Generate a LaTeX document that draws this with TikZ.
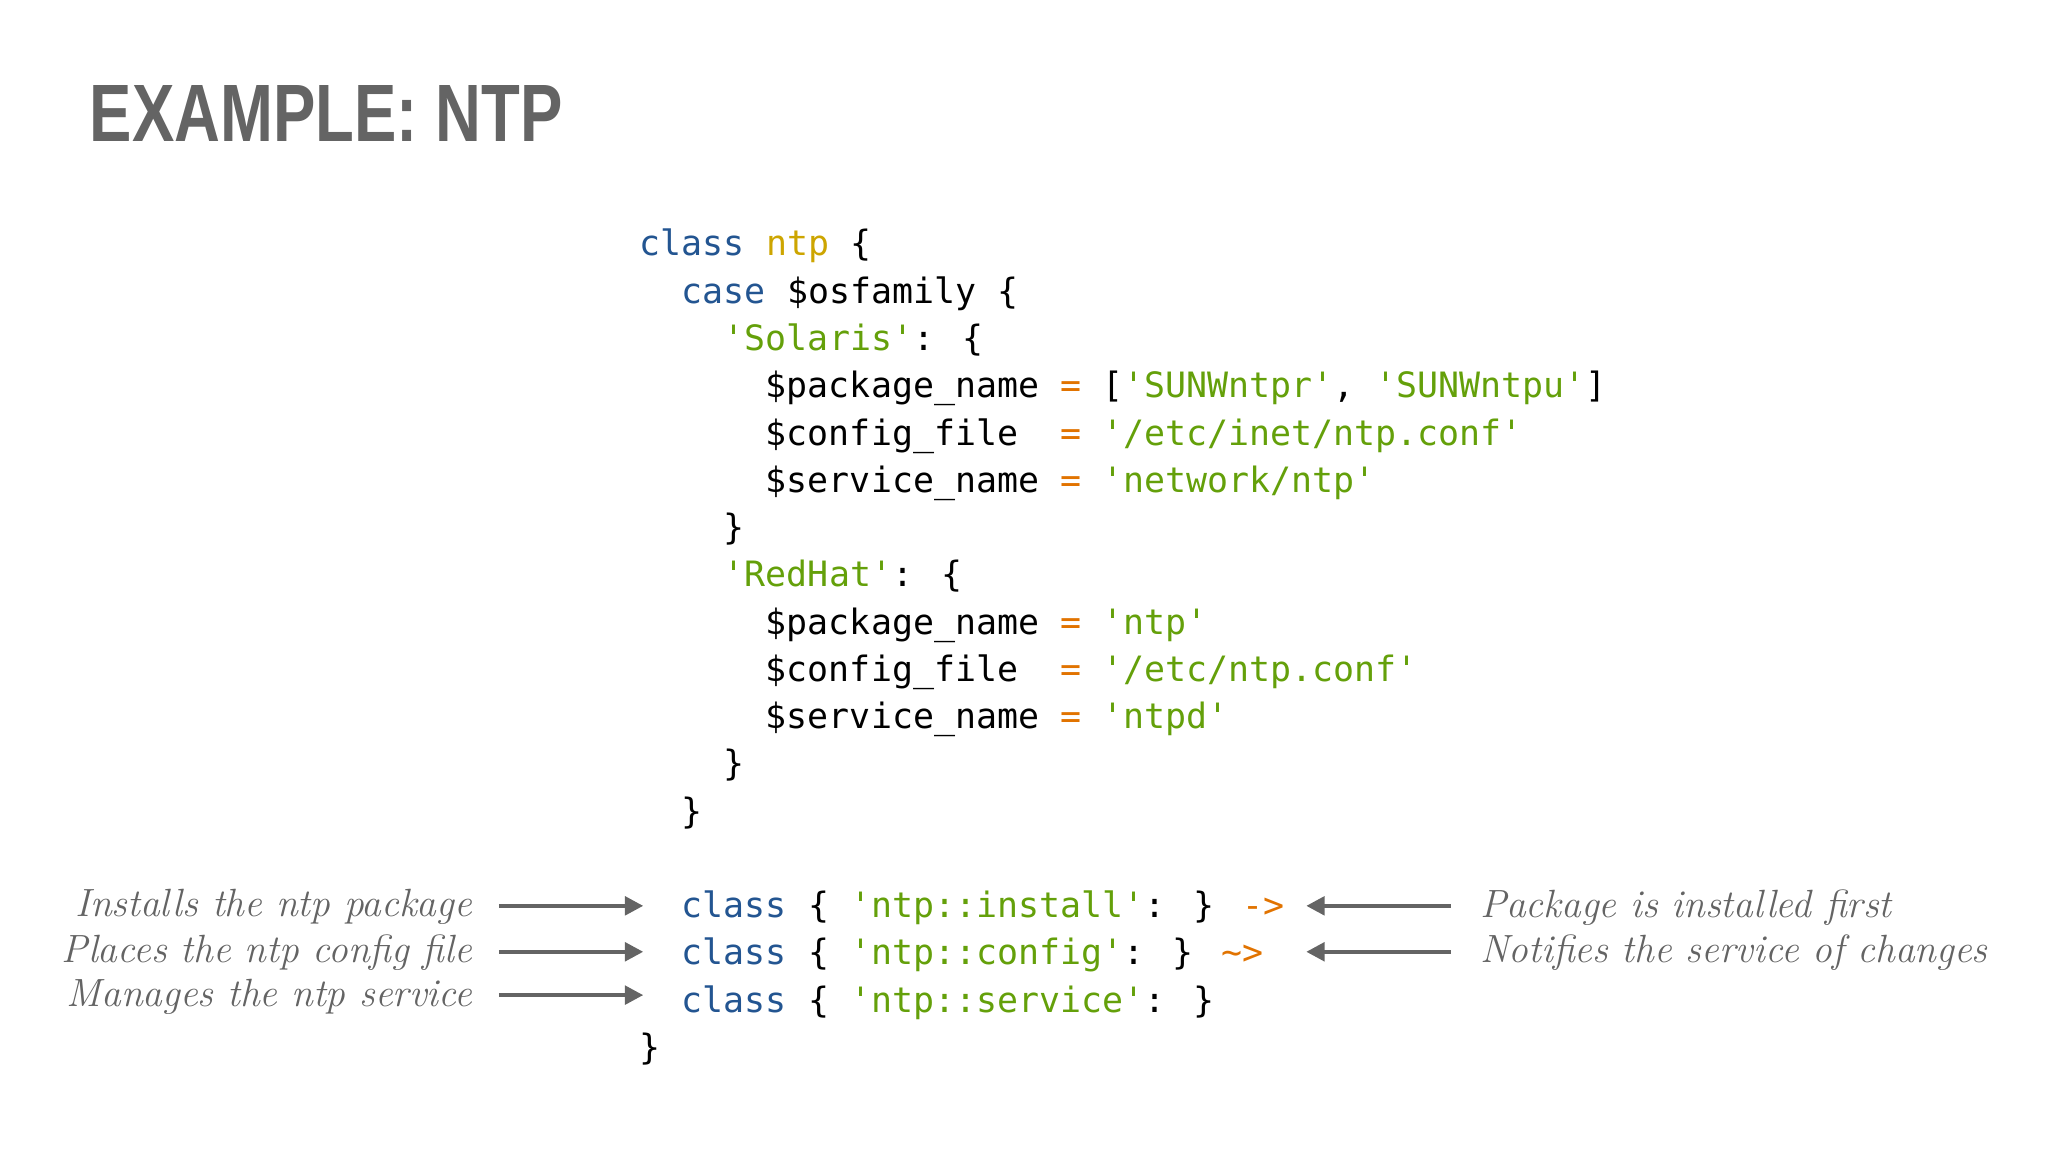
\documentclass[tikz,border=0pt]{standalone}
\usepackage{fontspec}
\newfontfamily\code{DejaVu Sans Mono}
\newfontfamily\ttl{Liberation Sans}
\usetikzlibrary{arrows.meta}
\definecolor{kw}{RGB}{35,85,145}
\definecolor{nm}{RGB}{205,165,0}
\definecolor{st}{RGB}{100,160,10}
\definecolor{op}{RGB}{225,115,0}
\definecolor{gr}{RGB}{100,100,100}
\newcommand{\K}[1]{\textcolor{kw}{#1}}
\newcommand{\N}[1]{\textcolor{nm}{#1}}
\newcommand{\Sg}[1]{\textcolor{st}{#1}}
\newcommand{\Op}[1]{\textcolor{op}{#1}}
\begin{document}
\begin{tikzpicture}[x=0.5pt,y=-0.5pt,
  cl/.style={anchor=base west,inner sep=0,font=\code\fontsize{13.3}{16}\selectfont},
  lab/.style={inner sep=0,font=\itshape\fontsize{15}{18}\selectfont,text=gr},
  arr/.style={draw=gr,line width=1.6pt,-{Triangle[length=7pt,width=7pt]}}]
\useasboundingbox (0,0) rectangle (1560,877.5);
\node[anchor=base west,inner sep=0,text=gr,font=\ttl\bfseries\fontsize{31}{34}\selectfont] (title) at (68,108) {\scalebox{0.78}[1]{EXAMPLE: NTP}};
\node[cl] (l1) at (487,195) {\K{class} \N{ntp} \{};
\node[cl] (l2) at (519,231) {\K{case} \$osfamily \{};
\node[cl] (l3) at (551,267) {\Sg{'Solaris'}: \{};
\node[cl] (l4) at (583,303) {\$package\_name \Op{=} [\Sg{'SUNWntpr'}, \Sg{'SUNWntpu'}]};
\node[cl] (l5) at (583,339) {\$config\_file\ \ \Op{=} \Sg{'/etc/inet/ntp.conf'}};
\node[cl] (l6) at (583,375) {\$service\_name \Op{=} \Sg{'network/ntp'}};
\node[cl] (l7) at (551,411) {\}};
\node[cl] (l8) at (551,447) {\Sg{'RedHat'}: \{};
\node[cl] (l9) at (583,483) {\$package\_name \Op{=} \Sg{'ntp'}};
\node[cl] (l10) at (583,519) {\$config\_file\ \ \Op{=} \Sg{'/etc/ntp.conf'}};
\node[cl] (l11) at (583,555) {\$service\_name \Op{=} \Sg{'ntpd'}};
\node[cl] (l12) at (551,591) {\}};
\node[cl] (l13) at (519,627) {\}};
\node[cl] (c1) at (519,699) {\K{class} \{ \Sg{'ntp::install'}: \} \Op{->}};
\node[cl] (c2) at (519,735) {\K{class} \{ \Sg{'ntp::config'}: \} \Op{\textasciitilde>}};
\node[cl] (c3) at (519,771) {\K{class} \{ \Sg{'ntp::service'}: \}};
\node[cl] (l17) at (487,807) {\}};
\node[lab,anchor=east] (a1) at (360,691) {Installs the ntp package};
\node[lab,anchor=east] (a2) at (360,726) {Places the ntp config file};
\node[lab,anchor=east] (a3) at (360,759) {Manages the ntp service};
\node[lab,anchor=west] (b1) at (1127,691) {Package is installed first};
\node[lab,anchor=west] (b2) at (1127,726) {Notifies the service of changes};
\coordinate (p1) at (490,690); \coordinate (p2) at (490,725); \coordinate (p3) at (490,758);
\coordinate (q1) at (995,690); \coordinate (q2) at (995,725);
\draw[arr] (380,690) -- (p1);
\draw[arr] (380,725) -- (p2);
\draw[arr] (380,758) -- (p3);
\draw[arr] (1105,690) -- (q1);
\draw[arr] (1105,725) -- (q2);
\end{tikzpicture}
\end{document}
